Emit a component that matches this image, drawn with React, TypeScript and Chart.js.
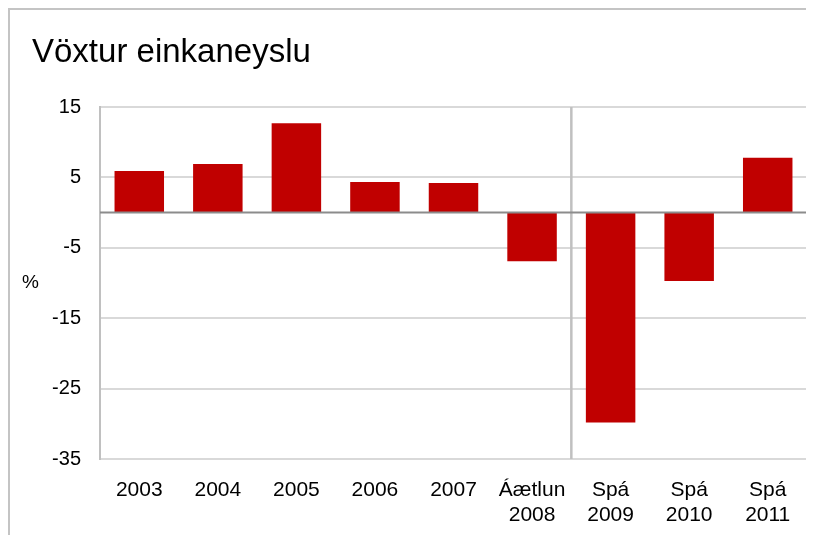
import React, { useEffect, useRef } from "react";
import { Chart, registerables } from "chart.js";

Chart.register(...registerables);

const title = "Vöxtur einkaneyslu";
const yUnit = "%";
const categories: (string | string[])[] = [
  "2003",
  "2004",
  "2005",
  "2006",
  "2007",
  ["Áætlun", "2008"],
  ["Spá", "2009"],
  ["Spá", "2010"],
  ["Spá", "2011"],
];
const values = [5.9, 6.9, 12.7, 4.35, 4.2, -6.9, -29.8, -9.7, 7.8];
const yMin = -35;
const yMax = 15;
const yStep = 10;
const separatorAfterIndex = 5; // line between "Áætlun 2008" and "Spá 2009"

const FONT = "'Liberation Sans', Arial, sans-serif";

const overlayPlugin = {
  id: "overlay",
  afterDatasetsDraw(chart: any) {
    const { ctx, chartArea, scales } = chart;
    const x = scales.x;
    const y = scales.y;
    ctx.save();
    // separator line between actual and forecast
    const sx = (x.getPixelForValue(separatorAfterIndex) + x.getPixelForValue(separatorAfterIndex + 1)) / 2;
    ctx.strokeStyle = "#c0c0c0";
    ctx.lineWidth = 2.5;
    ctx.beginPath();
    ctx.moveTo(sx, chartArea.top);
    ctx.lineTo(sx, chartArea.bottom);
    ctx.stroke();
    // zero line
    const zy = y.getPixelForValue(0);
    ctx.strokeStyle = "#8c8c8c";
    ctx.lineWidth = 2;
    ctx.beginPath();
    ctx.moveTo(chartArea.left, zy);
    ctx.lineTo(chartArea.right, zy);
    ctx.stroke();
    ctx.restore();
  },
  afterDraw(chart: any) {
    const { ctx } = chart;
    ctx.save();
    ctx.fillStyle = "#000";
    ctx.textAlign = "left";
    ctx.textBaseline = "alphabetic";
    ctx.font = `33px ${FONT}`;
    ctx.fillText(title, 22, 52);
    ctx.font = `19px ${FONT}`;
    ctx.textBaseline = "middle";
    ctx.fillText(yUnit, 12, 273);
    ctx.restore();
  },
};

export default function App() {
  const canvasRef = useRef<HTMLCanvasElement>(null);

  useEffect(() => {
    if (!canvasRef.current) return;
    const chart = new Chart(canvasRef.current, {
      type: "bar",
      data: {
        labels: categories,
        datasets: [
          {
            data: values,
            backgroundColor: "#c00000",
            borderWidth: 0,
            barPercentage: 0.63,
            categoryPercentage: 1,
          },
        ],
      },
      options: {
        animation: false,
        responsive: false,
        maintainAspectRatio: false,
        layout: { padding: { left: 0, right: 7, top: 97, bottom: 0 } },
        plugins: {
          legend: { display: false },
          title: { display: false },
          tooltip: { enabled: false },
        },
        scales: {
          x: {
            grid: { display: false, drawTicks: false },
            border: { display: false },
            ticks: {
              color: "#000",
              padding: 19,
              maxRotation: 0,
              autoSkip: false,
              font: { family: FONT, size: 21, lineHeight: "25px" as any },
            },
            afterFit(scale: any) {
              scale.height = 76;
            },
          },
          y: {
            min: yMin,
            max: yMax,
            ticks: {
              stepSize: yStep,
              color: "#000",
              padding: 19,
              font: { family: FONT, size: 20 },
            },
            grid: { color: "#d9d9d9", lineWidth: 2, drawTicks: false },
            border: { display: true, color: "#c0c0c0", width: 2 },
            afterFit(scale: any) {
              scale.width = 90;
            },
          },
        },
      },
      plugins: [overlayPlugin],
    });
    return () => chart.destroy();
  }, []);

  return (
    <div
      style={{
        borderLeft: "2px solid #c4c4c4",
        borderTop: "2px solid #c4c4c4",
        width: 804,
        height: 525,
        position: "relative",
      }}
    >
      <canvas ref={canvasRef} width={804} height={525} style={{ display: "block" }} />
    </div>
  );
}
